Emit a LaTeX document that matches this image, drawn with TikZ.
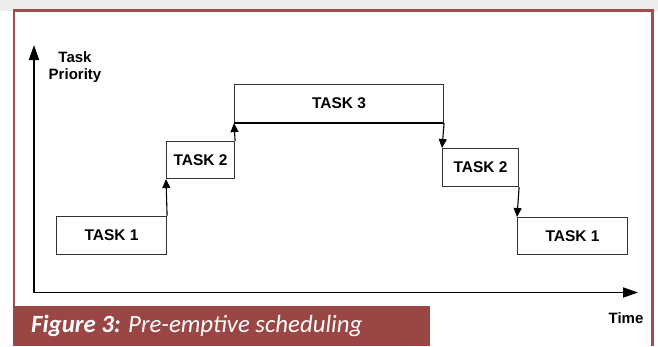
\documentclass[tikz,border=0pt]{standalone}
\usepackage{fontspec}
\setmainfont{Liberation Sans}
\newfontfamily\capfont{Carlito}
\usetikzlibrary{arrows.meta}
\definecolor{framered}{HTML}{A64B4B}
\definecolor{capred}{HTML}{9A4644}
\definecolor{shadow}{HTML}{EDEDED}
\definecolor{boxline}{HTML}{333333}
\tikzset{
  taskbox/.style={draw=boxline, line width=1.1pt, fill=white, anchor=north west,
    inner sep=0pt, font=\fontsize{15.5}{17}\selectfont\bfseries},
  conn/.style={draw=black, line width=1.1pt, -{Triangle[length=9pt,width=8pt]}},
  axis/.style={draw=black, line width=1.8pt, -{Triangle[length=15pt,width=10pt]}},
  lbl/.style={font=\fontsize{15}{17}\selectfont\bfseries, inner sep=0pt, align=center}
}
\begin{document}
\begin{tikzpicture}[x=1pt,y=-1pt]
\useasboundingbox (0,0) rectangle (658,346);
% background and frame
\fill[shadow] (0,0) rectangle (658,346);
\fill[white] (0,11) rectangle (658,346);
\fill[white] (13,10) rectangle (653,346);
\draw[framered, line width=2.4pt] (14,346) -- (14,10.5) -- (652.5,10.5) -- (652.5,346);
% caption
\fill[capred] (13,306) rectangle (430,346);
\node[anchor=base west, inner sep=0pt, text=white,
  font=\capfont\fontsize{24.8}{26}\selectfont] (cap) at (31,332)
  {\textbf{\textit{Figure 3:}} \textit{Pre-emptive scheduling}};
% axes
\coordinate (o) at (34,292.5);
\coordinate (ytip) at (34,45);
\coordinate (xtip) at (638,292.5);
\draw[axis] (o) -- (ytip);
\draw[axis] (o) -- (xtip);
\node[lbl, anchor=base] (ylab) at (75,79) {Task\\Priority};
\node[lbl, anchor=base] (xlab) at (626,323) {Time};
% tasks
\node[taskbox, minimum width=110pt, minimum height=38pt] (t1) at (56,216) {TASK 1};
\node[taskbox, minimum width=68pt, minimum height=37pt] (t2) at (166,141) {TASK 2};
\node[taskbox, minimum width=209pt, minimum height=38pt] (t3) at (234,84) {TASK 3};
\node[taskbox, minimum width=76pt, minimum height=38pt] (t2b) at (442,148) {TASK 2};
\node[taskbox, minimum width=110pt, minimum height=37pt] (t1b) at (517,217) {TASK 1};
\draw[line width=1.8pt] (t3.south west) -- (t3.south east);
% connectors
\draw[conn] (t1.north east) -- (t2.south west);
\draw[conn] (t2.north east) -- (t3.south west);
\draw[conn] (t3.south east) -- (t2b.north west);
\draw[conn] (t2b.south east) -- (t1b.north west);
\end{tikzpicture}
\end{document}
